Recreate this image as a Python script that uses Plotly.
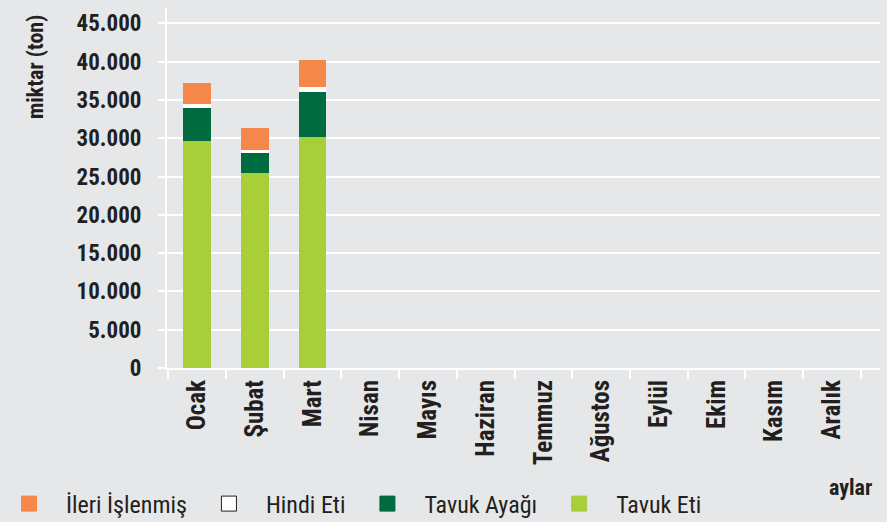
import plotly.graph_objects as go

months = ["Ocak", "Şubat", "Mart", "Nisan", "Mayıs", "Haziran", "Temmuz",
          "Ağustos", "Eylül", "Ekim", "Kasım", "Aralık"]
tavuk_eti = [29600, 25400, 30100]
tavuk_ayagi = [4300, 2750, 5900]
hindi_eti = [560, 260, 650]
ileri_islenmis = [2700, 2870, 3500]

y_ticks = [0, 5000, 10000, 15000, 20000, 25000, 30000, 35000, 40000, 45000]
y_labels = ["0", "5.000", "10.000", "15.000", "20.000", "25.000", "30.000",
            "35.000", "40.000", "45.000"]

series = [
    ("Tavuk Eti", tavuk_eti, "#A8CE3A"),
    ("Tavuk Ayağı", tavuk_ayagi, "#006B3F"),
    ("Hindi Eti", hindi_eti, "#FFFFFF"),
    ("İleri İşlenmiş", ileri_islenmis, "#F5874A"),
]

BG = "#E6E7E8"
TXT = "#231F20"
FONT = "Liberation Sans Narrow, Arial Narrow, Roboto Condensed, Liberation Sans, Arial, sans-serif"

fig = go.Figure()
for name, vals, col in series:
    fig.add_trace(go.Bar(
        x=months[:len(vals)], y=vals, name=name, showlegend=False,
        marker=dict(color=col, line=dict(width=0)), width=0.48,
    ))
for name, vals, col in series:
    fig.add_trace(go.Scatter(
        x=[None], y=[None], mode="markers", name=name,
        marker=dict(symbol="square", size=15, color=col,
                    line=dict(color=TXT if col == "#FFFFFF" else col, width=1)),
    ))

L, R, T, B = 167, 7, 8, 154
W, H = 887, 522
pw = W - L - R
ph = H - T - B


def px(x):
    return (x - L) / pw


def py(y):
    return (H - B - y) / ph


fig.update_layout(
    width=W, height=H,
    paper_bgcolor=BG, plot_bgcolor=BG,
    barmode="stack",
    margin=dict(l=L, r=R, t=T, b=B, autoexpand=False),
    font=dict(family=FONT, color=TXT),
    showlegend=True,
    legend=dict(orientation="h", x=px(-8), xanchor="left", y=py(504), yanchor="middle",
                traceorder="reversed", font=dict(size=24, family=FONT, color=TXT),
                bgcolor="rgba(0,0,0,0)", itemwidth=64),
    xaxis=dict(
        categoryorder="array", categoryarray=months,
        range=[-0.52, 11.83], tickangle=-90,
        tickfont=dict(size=25, family=FONT, weight="bold", color=TXT),
        showline=True, linecolor="white", linewidth=2,
        ticks="outside", tickson="boundaries", tickcolor="white", ticklen=9, tickwidth=2,
        showgrid=False,
    ),
    yaxis=dict(
        range=[0, 47000], tickvals=y_ticks, ticktext=y_labels,
        tickfont=dict(size=23, family=FONT, weight="bold", color=TXT),
        showline=True, linecolor="white", linewidth=2,
        ticks="outside", tickcolor="white", ticklen=7, tickwidth=2,
        showgrid=True, gridcolor="white", gridwidth=2,
        zeroline=False, ticklabelstandoff=12,
    ),
    annotations=[
        dict(text="<b>miktar (ton)</b>", x=px(35), y=py(67), xref="paper", yref="paper",
             xanchor="center", yanchor="middle",
             showarrow=False, textangle=-90, font=dict(size=22, family=FONT, color=TXT)),
        dict(text="<b>aylar</b>", x=px(850), y=py(487), xref="paper", yref="paper",
             xanchor="center", yanchor="middle",
             showarrow=False, font=dict(size=22, family=FONT, color=TXT)),
    ],
)

fig.write_html("out.html", config={"displayModeBar": False},
               post_script="document.body.style.margin='0';")
